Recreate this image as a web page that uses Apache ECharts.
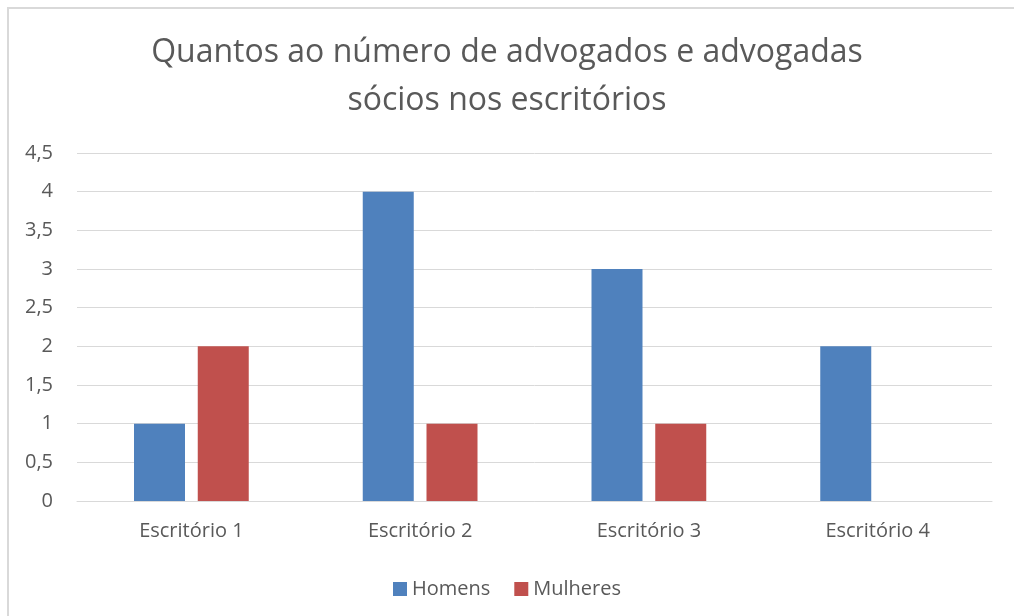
<!DOCTYPE html>
<html>
<head>
<meta charset="utf-8">
<script src="https://cdn.jsdelivr.net/npm/echarts@6/dist/echarts.min.js"></script>
<style>
  html, body { margin: 0; padding: 0; background: #fff; }
  #frame { position: absolute; left: 7px; top: 7px; width: 1020px; height: 620px; border: 2px solid #d9d9d9; box-sizing: border-box; }
  #main { position: absolute; left: 0; top: 0; width: 1014px; height: 616px; }
</style>
</head>
<body>
<div id="frame"></div>
<div id="main"></div>
<script>
var categories = ['Escritório 1', 'Escritório 2', 'Escritório 3', 'Escritório 4'];
var homens = [1, 4, 3, 2];
var mulheres = [2, 1, 1, 0];

var font = 'Open Sans';
var myChart = echarts.init(document.getElementById('main'));

var option = {
  animation: false,
  textStyle: { fontFamily: font },
  title: {
    text: 'Quantos ao número de advogados e advogadas\nsócios nos escritórios',
    left: 'center',
    top: 24,
    textStyle: { fontFamily: font, fontSize: 32, fontWeight: 'normal', color: '#595959', lineHeight: 48 }
  },
  legend: {
    top: 574,
    left: 'center',
    itemWidth: 14,
    itemHeight: 14,
    itemGap: 24,
    icon: 'rect',
    textStyle: { fontFamily: font, fontSize: 20, color: '#595959' },
    data: ['Homens', 'Mulheres']
  },
  grid: { left: 77, right: 22, top: 153, bottom: 115, containLabel: false },
  xAxis: {
    type: 'category',
    data: categories,
    axisLine: { lineStyle: { color: '#d9d9d9', width: 1 } },
    axisTick: { show: false },
    axisLabel: { fontFamily: font, fontSize: 20, color: '#595959', margin: 20 }
  },
  yAxis: {
    type: 'value',
    min: 0,
    max: 4.5,
    interval: 0.5,
    axisLine: { show: false },
    axisTick: { show: false },
    splitLine: { lineStyle: { color: '#d9d9d9', width: 1 } },
    axisLabel: {
      fontFamily: font, fontSize: 20, color: '#595959', margin: 24,
      formatter: function (v) { return String(v).replace('.', ','); }
    }
  },
  series: [
    { name: 'Homens', type: 'bar', data: homens, barWidth: 51, barGap: '25%', itemStyle: { color: '#4f81bd' } },
    { name: 'Mulheres', type: 'bar', data: mulheres, barWidth: 51, barGap: '25%', itemStyle: { color: '#c0504d' } }
  ]
};

myChart.setOption(option);
</script>
</body>
</html>
